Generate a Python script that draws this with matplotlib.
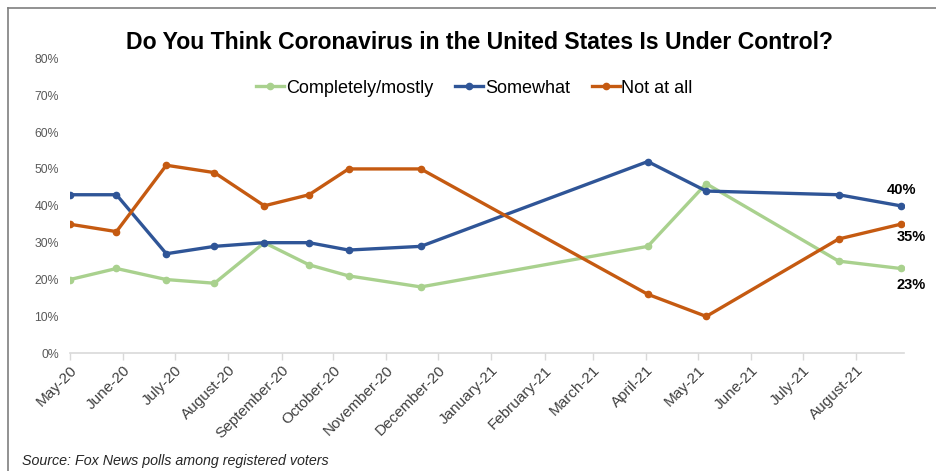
import datetime as dt
import matplotlib.pyplot as plt
import matplotlib.dates as mdates
from matplotlib.ticker import MultipleLocator, PercentFormatter
from matplotlib.lines import Line2D

# poll dates (start of field period) and shares in percent
poll_dates = ["2020-05-17", "2020-06-13", "2020-07-12", "2020-08-09", "2020-09-07",
              "2020-10-03", "2020-10-26", "2020-12-07", "2021-04-18", "2021-05-22",
              "2021-08-07", "2021-09-12"]
completely_mostly = [20, 23, 20, 19, 30, 24, 21, 18, 29, 46, 25, 23]
somewhat = [43, 43, 27, 29, 30, 30, 28, 29, 52, 44, 43, 40]
not_at_all = [35, 33, 51, 49, 40, 43, 50, 50, 16, 10, 31, 35]

series_names = ["Completely/mostly", "Somewhat", "Not at all"]
series_colors = ["#A9D18E", "#2F5597", "#C55A11"]

dates = [dt.datetime.strptime(d, "%Y-%m-%d") for d in poll_dates]

plt.rcParams['font.family'] = ['Liberation Sans', 'DejaVu Sans']

fig = plt.figure(figsize=(9.36, 4.71), dpi=100)
ax = fig.add_axes([0.0748, 0.2499, 0.8910, 0.6263])

# border around the chart (right and bottom edges fall outside)
fig.add_artist(Line2D([8 / 936, 8 / 936], [0, 1 - 8 / 471], color="#7f7f7f", lw=1.2,
                      transform=fig.transFigure))
fig.add_artist(Line2D([8 / 936, 1], [1 - 8 / 471, 1 - 8 / 471], color="#7f7f7f", lw=1.2,
                      transform=fig.transFigure))

for vals, name, col in zip([completely_mostly, somewhat, not_at_all], series_names, series_colors):
    ax.plot(dates, vals, color=col, lw=2.4, marker="o", ms=4.5, label=name,
            solid_joinstyle="round")

# end-of-line value labels
ax.annotate(f"{somewhat[-1]}%", (dates[-1], somewhat[-1]), xytext=(-10, 6),
            textcoords="offset points", fontsize=10.5, fontweight="bold", ha="left", va="bottom")
ax.annotate(f"{not_at_all[-1]}%", (dates[-1], not_at_all[-1]), xytext=(-3, -4),
            textcoords="offset points", fontsize=10.5, fontweight="bold", ha="left", va="top")
ax.annotate(f"{completely_mostly[-1]}%", (dates[-1], completely_mostly[-1]), xytext=(-3, -7),
            textcoords="offset points", fontsize=10.5, fontweight="bold", ha="left", va="top")

ax.set_ylim(0, 80)
ax.set_xlim(dates[0], dt.datetime(2021, 9, 14))
ax.yaxis.set_major_locator(MultipleLocator(10))
ax.yaxis.set_major_formatter(PercentFormatter(decimals=0))
ax.xaxis.set_major_locator(mdates.MonthLocator(bymonthday=17))
ax.xaxis.set_major_formatter(mdates.DateFormatter("%B-%y"))

for s in ["top", "right", "left"]:
    ax.spines[s].set_visible(False)
ax.spines["bottom"].set_color("#d9d9d9")
ax.spines["bottom"].set_linewidth(1.2)
ax.spines["bottom"].set_zorder(0)

ax.tick_params(axis="y", length=0, labelsize=8.8, labelcolor="#595959", pad=8)
ax.tick_params(axis="x", length=5, color="#d9d9d9", width=1, labelsize=11,
               labelcolor="#404040", pad=2)
for lbl in ax.get_xticklabels():
    lbl.set_rotation(45)
    lbl.set_ha("right")
    lbl.set_rotation_mode("anchor")

fig.text(0.512, 0.910, "Do You Think Coronavirus in the United States Is Under Control?",
         ha="center", va="center", fontsize=16.6, fontweight="bold")

fig.legend(loc="center", bbox_to_anchor=(0.507, 0.813), ncol=3, frameon=False,
           fontsize=13, handlelength=1.55, handletextpad=0.1, columnspacing=1.2)

fig.text(0.024, 0.022, "Source: Fox News polls among registered voters", ha="left",
         va="center", fontsize=10.3, style="italic", color="#262626")

fig.savefig("out.png", dpi=100, facecolor="white")
